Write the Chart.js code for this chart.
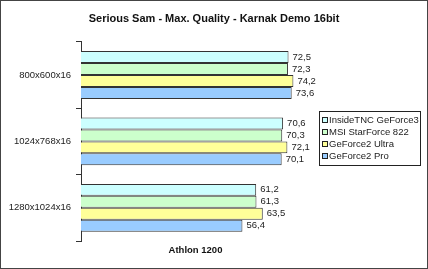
<!DOCTYPE html>
<html>
<head>
<meta charset="utf-8">
<script src="https://cdn.jsdelivr.net/npm/chart.js@4"></script>
<style>
body { margin: 0; background: #fff; }
#frame { width: 428px; height: 269px; box-sizing: border-box; border: 1px solid #444; position: relative; }
</style>
</head>
<body>
<div id="frame"><canvas id="chart"></canvas></div>
<script>
const categories = ['800x600x16', '1024x768x16', '1280x1024x16'];
const seriesNames = ['InsideTNC GeForce3', 'MSI StarForce 822', 'GeForce2 Ultra', 'GeForce2 Pro'];
const geforce3 = [72.5, 70.6, 61.2];
const starforce822 = [72.3, 70.3, 61.3];
const geforce2Ultra = [74.2, 72.1, 63.5];
const geforce2Pro = [73.6, 70.1, 56.4];
const colors = ['#ccffff', '#ccffcc', '#ffff99', '#99ccff'];

const FONT = "'Liberation Sans', Arial, sans-serif";
const series = [geforce3, starforce822, geforce2Ultra, geforce2Pro];

// numbers at the end of each bar, comma decimals
const valueLabels = {
  id: 'valueLabels',
  afterDatasetsDraw(chart) {
    const ctx = chart.ctx;
    ctx.save();
    ctx.font = '9.5px ' + FONT;
    ctx.fillStyle = '#222';
    ctx.textBaseline = 'middle';
    chart.data.datasets.forEach((ds, i) => {
      chart.getDatasetMeta(i).data.forEach((bar, j) => {
        ctx.fillText(ds.data[j].toFixed(1).replace('.', ','), bar.x + 4, bar.y);
      });
    });
    ctx.restore();
  }
};

// legend in a framed box, added as a layout box on the right so the title stays centred on the canvas
const boxLegend = {
  id: 'boxLegend',
  beforeInit(chart) {
    const box = {
      position: 'right', fullSize: false, weight: 0, options: {},
      left: 0, top: 0, right: 0, bottom: 0, width: 0, height: 0,
      isHorizontal: () => false,
      update(maxW, maxH) { this.width = 117; this.height = maxH; },
      draw() {
        const ctx = chart.ctx;
        const x = this.left + 9, y = 110, w = 101, rowH = 12;
        const h = rowH * chart.data.datasets.length + 6;
        ctx.save();
        ctx.strokeStyle = '#222';
        ctx.lineWidth = 1;
        ctx.strokeRect(x + 0.5, y + 0.5, w, h);
        ctx.font = '9.5px ' + FONT;
        ctx.textBaseline = 'middle';
        chart.data.datasets.forEach((ds, i) => {
          const cy = y + 9 + i * rowH;
          ctx.fillStyle = ds.backgroundColor;
          ctx.fillRect(x + 3, cy - 3, 5, 5);
          ctx.strokeStyle = '#222';
          ctx.strokeRect(x + 3.5, cy - 2.5, 5, 5);
          ctx.fillStyle = '#222';
          ctx.fillText(ds.label, x + 10, cy);
        });
        ctx.restore();
      }
    };
    Chart.layouts.addBox(chart, box);
  }
};

new Chart(document.getElementById('chart'), {
  type: 'bar',
  data: {
    labels: categories,
    datasets: series.map((d, i) => ({
      label: seriesNames[i],
      data: d,
      backgroundColor: colors[i],
      borderColor: '#333',
      borderWidth: 1,
      borderSkipped: 'left'
    }))
  },
  options: {
    indexAxis: 'y',
    responsive: true,
    maintainAspectRatio: false,
    animation: false,
    categoryPercentage: 0.72,
    barPercentage: 1,
    layout: { padding: 0 },
    scales: {
      x: {
        min: 0, max: 80,
        grid: { display: false },
        border: { display: false },
        ticks: { display: false },
        title: {
          display: true, text: 'Athlon 1200', color: '#111',
          font: { family: FONT, size: 9.5, weight: 'bold' },
          padding: { top: 2, bottom: 12 }
        },
        afterFit: s => { s.height = 27; }
      },
      y: {
        grid: { offset: true, drawOnChartArea: false, tickLength: 5, color: '#333' },
        border: { color: '#333' },
        ticks: { color: '#222', padding: 5, font: { family: FONT, size: 9.5 } },
        afterFit: s => { s.width = 80; }
      }
    },
    plugins: {
      legend: { display: false },
      tooltip: { enabled: false },
      title: {
        display: true,
        text: 'Serious Sam - Max. Quality - Karnak Demo 16bit',
        color: '#111',
        font: { family: FONT, size: 11, weight: 'bold' },
        padding: { top: 11, bottom: 16.6 }
      }
    }
  },
  plugins: [valueLabels, boxLegend]
});
</script>
</body>
</html>
